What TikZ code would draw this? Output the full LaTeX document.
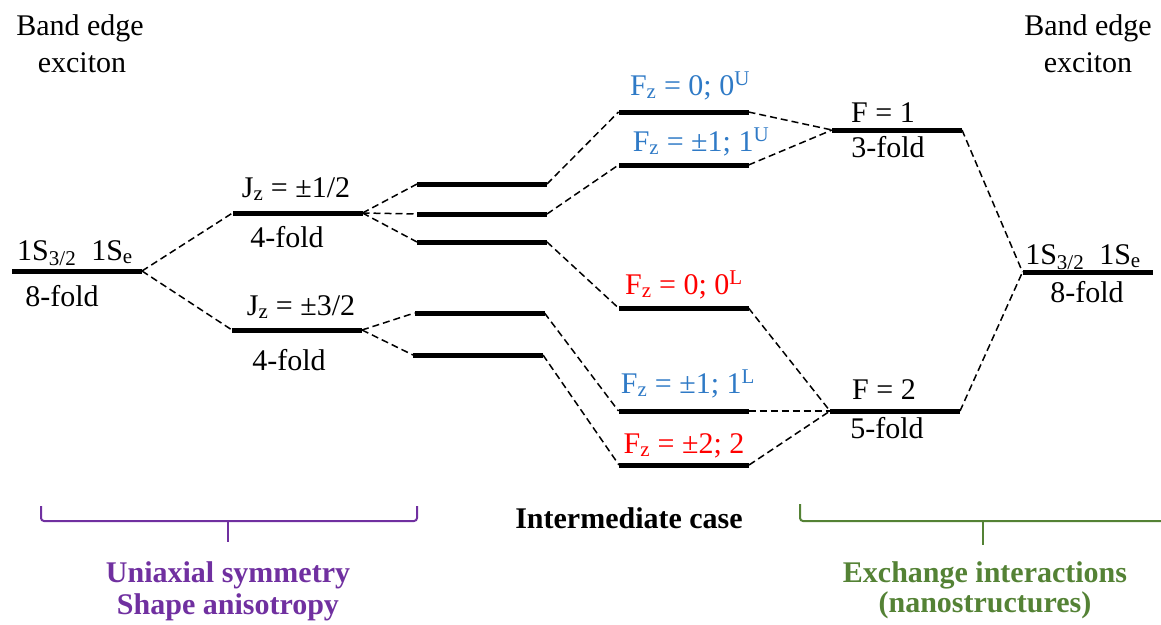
\documentclass[tikz,border=0pt]{standalone}
\usepackage{fontspec}
\setmainfont{Liberation Serif}
\usepackage{tikz}
\usetikzlibrary{positioning,calc}
\definecolor{fzblue}{HTML}{2F7AC6}
\definecolor{fzred}{HTML}{FF0000}
\definecolor{uniax}{HTML}{7030A0}
\definecolor{exch}{HTML}{548235}
\tikzset{
  every node/.style={font=\fontsize{30}{36}\selectfont},
  level/.style={fill=black,minimum width=130pt,minimum height=5pt,inner sep=0pt,outer sep=0pt},
  lab/.style={anchor=base,inner sep=0pt},
  bluelab/.style={lab,text=fzblue},
  redlab/.style={lab,text=fzred},
  conn/.style={draw=black,line width=1.5pt,dash pattern=on 7pt off 4pt},
  bracket/.style={line width=2pt,rounded corners=3pt},
  caption/.style={lab,font=\fontsize{30}{36}\selectfont\bfseries},
}
\newcommand{\ones}{1S\textsubscript{3/2}\enspace1S\textsubscript{e}}

\begin{document}
\begin{tikzpicture}[x=1pt,y=-1pt]
\useasboundingbox (0,0) rectangle (1161,624);

% levels
\node[level] (L0) at (77,271) {};
\node[level] (J1) at (297.5,213) {};
\node[level] (J3) at (297,330) {};
\node[level] (m1) at (482,184) {};
\node[level] (m2) at (482,214) {};
\node[level] (m3) at (482,242) {};
\node[level] (m4) at (479.5,313) {};
\node[level] (m5) at (478,355) {};
\node[level] (u0) at (683.5,112) {};
\node[level] (u1) at (683.5,165) {};
\node[level] (l0) at (683.5,308) {};
\node[level] (l1) at (683.5,411) {};
\node[level] (l2) at (684,465) {};
\node[level] (f1) at (897,130) {};
\node[level] (f2) at (895,411) {};
\node[level] (R0) at (1087.5,272) {};

% labels
\node[lab] (bl1) at (80,35) {Band edge};
\node[lab] (bl2) at (82,72) {exciton};
\node[lab] (br1) at (1088,35) {Band edge};
\node[lab] (br2) at (1088,72) {exciton};

\node[lab] (tL0) at (75,260) {\ones};
\node[lab] (dL0) at (62,306) {8-fold};
\node[lab] (tJ1) at (296,197) {J\textsubscript{z} = ±1/2};
\node[lab] (dJ1) at (287,247) {4-fold};
\node[lab] (tJ3) at (301,315) {J\textsubscript{z} = ±3/2};
\node[lab] (dJ3) at (289,370) {4-fold};

\node[bluelab] (tu0) at (690,95) {F\textsubscript{z} = 0; 0\textsuperscript{U}};
\node[bluelab] (tu1) at (701,151) {F\textsubscript{z} = ±1; 1\textsuperscript{U}};
\node[redlab] (tl0) at (684,294) {F\textsubscript{z} = 0; 0\textsuperscript{L}};
\node[bluelab] (tl1) at (688,393) {F\textsubscript{z} = ±1; 1\textsuperscript{L}};
\node[redlab] (tl2) at (684,453) {F\textsubscript{z} = ±2; 2};

\node[lab] (tf1) at (883,122) {F = 1};
\node[lab] (df1) at (888,157) {3-fold};
\node[lab] (tf2) at (884,399) {F = 2};
\node[lab] (df2) at (887,438) {5-fold};
\node[lab] (tR0) at (1083,264) {\ones};
\node[lab] (dR0) at (1087,302) {8-fold};

% splittings
\draw[conn] (L0.east) -- (J1.west);
\draw[conn] (L0.east) -- (J3.west);
\foreach \m in {m1,m2,m3} \draw[conn] (J1.east) -- (\m.west);
\foreach \m in {m4,m5} \draw[conn] (J3.east) -- (\m.west);
\draw[conn] (m1.east) -- (u0.west);
\draw[conn] (m2.east) -- (u1.west);
\draw[conn] (m3.east) -- (l0.west);
\draw[conn] (m4.east) -- (l1.west);
\draw[conn] (m5.east) -- (l2.west);
\foreach \u in {u0,u1} \draw[conn] (\u.east) -- (f1.west);
\foreach \l in {l0,l1,l2} \draw[conn] (\l.east) -- (f2.west);
\draw[conn] (f1.east) -- (R0.west);
\draw[conn] (f2.east) -- (R0.west);

% brackets and captions
\draw[bracket,uniax] (41,506) |- (417,521) -- (417,506);
\draw[bracket,uniax,rounded corners=0pt] (228,521) -- (228,542);
\draw[bracket,exch] (800,504) |- (1161,521);
\draw[bracket,exch,rounded corners=0pt] (983,521) -- (983,545);

\node[caption] (mid) at (629,528) {Intermediate case};
\node[caption,text=uniax] (ua1) at (228,582) {Uniaxial symmetry};
\node[caption,text=uniax] (ua2) at (228,614) {Shape anisotropy};
\node[caption,text=exch] (ex1) at (985,582) {Exchange interactions};
\node[caption,text=exch] (ex2) at (985,612) {(nanostructures)};
\end{tikzpicture}
\end{document}
